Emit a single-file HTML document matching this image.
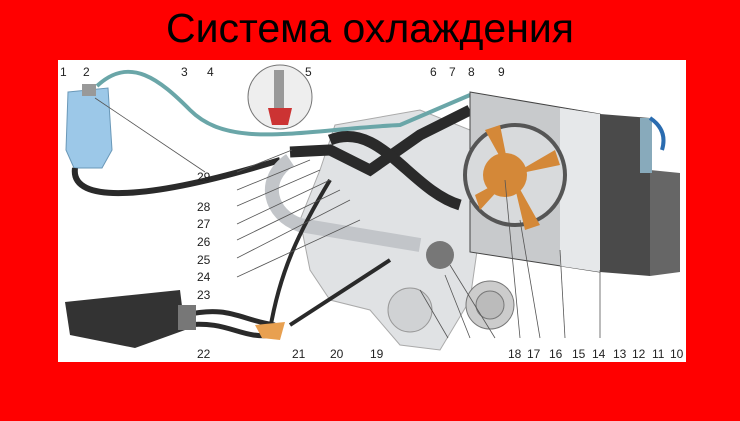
<!DOCTYPE html>
<html><head><meta charset="utf-8"><style>
html,body{margin:0;padding:0;background:#f00;width:740px;height:421px;overflow:hidden}
.t{position:absolute;left:0;width:740px;top:5px;text-align:center;font-family:"Liberation Sans","DejaVu Sans",sans-serif;font-size:41px;color:#000;letter-spacing:0px}
svg{position:absolute;left:58px;top:60px}
text{font-family:"Liberation Sans",sans-serif;font-size:12px;fill:#222}
</style></head><body>
<div class="t">Система охлаждения</div>
<svg width="628" height="302" viewBox="58 60 628 302">
<rect x="58" y="60" width="628" height="302" fill="#fff"/>
<!-- engine -->
<path d="M335 125 L420 110 L470 130 L480 230 L470 300 L440 350 L400 345 L370 310 L330 300 L310 270 L300 220 L320 170 Z" fill="#e0e2e4" stroke="#aaa"/>
<circle cx="410" cy="310" r="22" fill="#d0d2d4" stroke="#999"/>
<circle cx="490" cy="305" r="24" fill="#ccc" stroke="#777"/>
<circle cx="490" cy="305" r="14" fill="#bbb" stroke="#777"/>
<!-- tank -->
<path d="M68 92 L108 88 L112 150 L102 168 L74 168 L66 150 Z" fill="#9cc8e8" stroke="#6a98b8"/>
<rect x="82" y="84" width="14" height="12" fill="#999"/>
<!-- thin hose 3 -->
<path d="M97 86 C130 55 160 80 190 110 C230 150 300 130 400 125 L470 95" fill="none" stroke="#6aa6a8" stroke-width="4"/>
<!-- hose 4 -->
<path d="M75 168 C70 205 150 200 280 160" fill="none" stroke="#2a2a2a" stroke-width="6"/>
<!-- upper hoses -->
<path d="M290 152 L330 150 L370 170 L420 135 L470 110" fill="none" stroke="#2a2a2a" stroke-width="11"/>
<path d="M330 140 C380 120 410 190 460 205" fill="none" stroke="#2a2a2a" stroke-width="11"/>
<path d="M290 160 C260 180 270 215 300 225 L420 245" fill="none" stroke="#c2c5c9" stroke-width="14"/>
<path d="M330 180 C300 230 280 270 270 330" fill="none" stroke="#2a2a2a" stroke-width="4"/>
<path d="M390 260 L290 325" fill="none" stroke="#2a2a2a" stroke-width="4"/>
<path d="M185 325 C230 320 240 340 275 335" fill="none" stroke="#2a2a2a" stroke-width="5"/>
<path d="M185 315 C230 305 240 320 275 325" fill="none" stroke="#2a2a2a" stroke-width="5"/>
<circle cx="440" cy="255" r="14" fill="#777"/>
<path d="M255 325 L285 322 L280 340 L262 338Z" fill="#e8a050"/>
<!-- heater -->
<path d="M65 302 L180 290 L185 330 L135 348 L70 335Z" fill="#333"/>
<rect x="178" y="305" width="18" height="25" fill="#777"/>
<!-- inset 5 -->
<circle cx="280" cy="97" r="32" fill="#eee" stroke="#777"/>
<rect x="274" y="70" width="10" height="55" fill="#999"/>
<path d="M268 108 L292 108 L288 125 L272 125Z" fill="#c33"/>
<!-- radiator -->
<path d="M470 92 L600 114 L600 272 L470 252Z" fill="#c8cacc" stroke="#444"/>
<path d="M560 108 L600 114 L600 272 L560 266Z" fill="#e6e8ea"/>
<path d="M600 114 L650 118 L650 276 L600 272Z" fill="#4a4a4a"/>
<path d="M650 170 L680 173 L680 272 L650 276Z" fill="#666"/>
<rect x="640" y="118" width="12" height="55" fill="#8ab"/>
<path d="M650 118 Q668 130 662 150" fill="none" stroke="#2a6cb0" stroke-width="4"/>
<!-- fan -->
<circle cx="515" cy="175" r="50" fill="#d8dadc" stroke="#555" stroke-width="4"/>
<path d="M510 175 L485 130 L500 125Z M512 175 L560 165 L555 150Z M512 175 L540 225 L525 230Z M512 175 L475 195 L480 210Z" fill="#d48838"/>
<circle cx="505" cy="175" r="22" fill="#d48838"/>
<!-- leader lines -->
<g stroke="#555" stroke-width="0.8" fill="none">
<path d="M95 98 L205 172"/><path d="M237 172 L292 150"/><path d="M237 190 L310 160"/><path d="M237 206 L320 170"/><path d="M237 224 L330 180"/><path d="M237 240 L340 190"/><path d="M237 258 L350 200"/><path d="M237 277 L360 220"/>
<path d="M448 338 L420 290"/><path d="M470 338 L445 275"/><path d="M495 338 L450 265"/><path d="M520 338 L505 180"/><path d="M540 338 L520 220"/><path d="M565 338 L560 250"/><path d="M600 338 L600 270"/>
</g>
<g>
<text x="60" y="76">1</text><text x="83" y="76">2</text><text x="181" y="76">3</text><text x="207" y="76">4</text><text x="305" y="76">5</text><text x="430" y="76">6</text><text x="449" y="76">7</text><text x="468" y="76">8</text><text x="498" y="76">9</text>
<text x="197" y="181">29</text><text x="197" y="211">28</text><text x="197" y="228">27</text><text x="197" y="246">26</text><text x="197" y="264">25</text><text x="197" y="281">24</text><text x="197" y="299">23</text>
<text x="197" y="358">22</text><text x="292" y="358">21</text><text x="330" y="358">20</text><text x="370" y="358">19</text><text x="508" y="358">18</text><text x="527" y="358">17</text><text x="549" y="358">16</text><text x="572" y="358">15</text><text x="592" y="358">14</text><text x="613" y="358">13</text><text x="632" y="358">12</text><text x="652" y="358">11</text><text x="670" y="358">10</text>
</g>
</svg>
</body></html>
